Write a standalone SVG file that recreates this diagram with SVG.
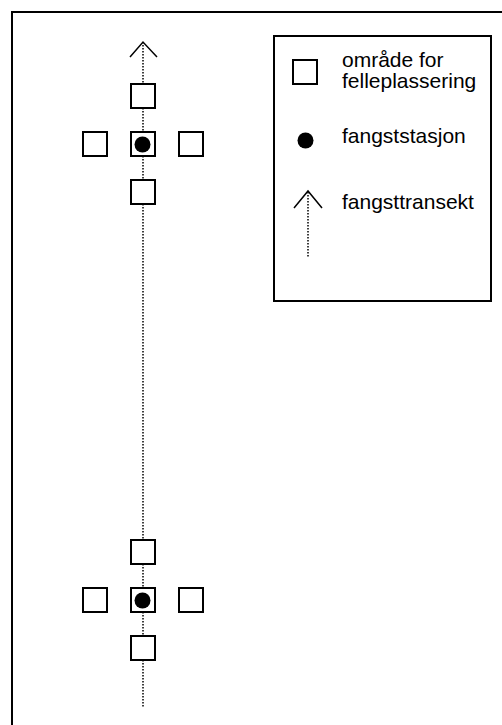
<svg xmlns="http://www.w3.org/2000/svg" width="502" height="725" viewBox="0 0 502 725">
<style>
.sq{fill:#fff;stroke:#000;stroke-width:2}
.dot{fill:#000}
.tr{stroke:#000;stroke-width:1.5;stroke-dasharray:1.5 1.5;fill:none}
.ah{stroke:#000;stroke-width:1.5;fill:none}
.t{font-family:"Liberation Sans",Arial,sans-serif;font-size:21px;fill:#000}
</style>
<rect width="502" height="725" fill="#fff"/>
<path d="M12,730 V12 H510" fill="none" stroke="#000" stroke-width="2"/>
<g id="connectors">
<line class="tr" x1="143" y1="42" x2="143" y2="708"/>
<path class="ah" d="M130,57 L143,42 L157,57"/>
</g>
<g id="station-top">
<rect class="sq" x="131" y="84" width="24" height="24"/>
<rect class="sq" x="83" y="132" width="24" height="24"/>
<rect class="sq" x="131" y="132" width="24" height="24"/>
<rect class="sq" x="179" y="132" width="24" height="24"/>
<rect class="sq" x="131" y="180" width="24" height="24"/>
<circle class="dot" cx="142.5" cy="144.5" r="8"/>
</g>
<g id="station-bottom">
<rect class="sq" x="131" y="540" width="24" height="24"/>
<rect class="sq" x="83" y="588" width="24" height="24"/>
<rect class="sq" x="131" y="588" width="24" height="24"/>
<rect class="sq" x="179" y="588" width="24" height="24"/>
<rect class="sq" x="131" y="636" width="24" height="24"/>
<circle class="dot" cx="142.5" cy="600.5" r="8"/>
</g>
<g id="legend">
<rect x="274" y="36" width="217" height="265" fill="#fff" stroke="#000" stroke-width="2"/>
<rect class="sq" x="293" y="60" width="24" height="24"/>
<text class="t" x="342" y="67">område for</text>
<text class="t" x="342" y="88">felleplassering</text>
<circle class="dot" cx="305.5" cy="140.5" r="8"/>
<text class="t" x="342" y="143">fangststasjon</text>
<line class="tr" x1="308" y1="192" x2="308" y2="258"/>
<path class="ah" d="M294,208 L308,191 L322,208"/>
<text class="t" x="342" y="209">fangsttransekt</text>
</g>
</svg>
